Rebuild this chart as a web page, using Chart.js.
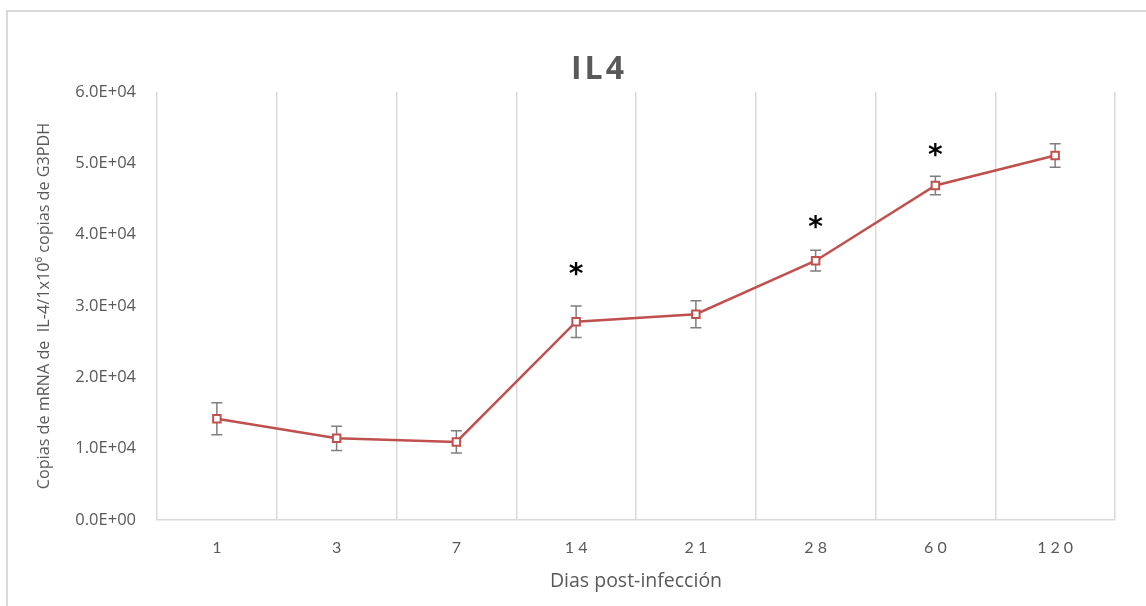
<!DOCTYPE html>
<html>
<head>
<meta charset="utf-8">
<script src="https://cdn.jsdelivr.net/npm/chart.js@4"></script>
<style>
  html, body { margin: 0; padding: 0; background: #fff; }
  #wrap { width: 1146px; height: 606px; }
</style>
</head>
<body>
<div id="wrap"><canvas id="il4Chart" width="1146" height="606"></canvas></div>
<script>
// ---------- data ----------
const days = ['1', '3', '7', '14', '21', '28', '60', '120'];
const il4Mean = [14200, 11450, 10950, 27800, 28850, 36350, 46900, 51100];
const il4Err = [2250, 1700, 1550, 2200, 1900, 1450, 1300, 1650];
// level where the significance asterisk sits (null = none)
const starLevel = [null, null, null, 35000, null, 41600, 51600, null];
const yTicks = [0, 10000, 20000, 30000, 40000, 50000, 60000];

const grey = '#595959';
const lineRed = '#c0504d';

// ---------- plugins ----------
// chart frame (top + left border) and the title
const framePlugin = {
  id: 'frame',
  beforeDraw(chart) {
    const c = chart.ctx;
    c.save();
    c.strokeStyle = '#d9d9d9';
    c.lineWidth = 2;
    c.beginPath();
    c.moveTo(7, chart.height);
    c.lineTo(7, 11);
    c.lineTo(chart.width, 11);
    c.stroke();

    c.fillStyle = grey;
    c.font = 'bold 32px "Open Sans"';
    c.letterSpacing = '3px';
    c.textAlign = 'center';
    c.textBaseline = 'middle';
    c.fillText('IL4', 599, 70);
    c.restore();
  }
};

// vertical error bars with caps, plus asterisks
const errorBarPlugin = {
  id: 'errorBars',
  beforeDatasetsDraw(chart) {
    const c = chart.ctx, x = chart.scales.x, y = chart.scales.y;
    c.save();
    c.strokeStyle = '#7f7f7f';
    c.lineWidth = 1.5;
    il4Mean.forEach((m, i) => {
      const px = x.getPixelForValue(i);
      const top = y.getPixelForValue(m + il4Err[i]);
      const bot = y.getPixelForValue(m - il4Err[i]);
      c.beginPath();
      c.moveTo(px, top); c.lineTo(px, bot);
      c.moveTo(px - 5.5, top); c.lineTo(px + 5.5, top);
      c.moveTo(px - 5.5, bot); c.lineTo(px + 5.5, bot);
      c.stroke();
    });
    c.restore();
  },
  afterDatasetsDraw(chart) {
    const c = chart.ctx, x = chart.scales.x, y = chart.scales.y;
    c.save();
    c.fillStyle = '#000';
    c.font = 'bold 28px "DejaVu Sans"';
    c.textAlign = 'center';
    c.textBaseline = 'middle';
    starLevel.forEach((v, i) => {
      if (v == null) return;
      c.fillText('*', x.getPixelForValue(i), y.getPixelForValue(v) + 5);
    });
    c.restore();
  }
};

// spaced-out category labels
const spacedTicksPlugin = {
  id: 'spacedTicks',
  beforeDraw(chart) {
    const s = chart.scales.x;
    if (s._spaced) return;
    const orig = s.drawLabels;
    s.drawLabels = function (area) {
      const c = this.ctx;
      c.save();
      c.letterSpacing = '4px';
      c.translate(2, 0);
      orig.call(this, area);
      c.restore();
    };
    s._spaced = true;
  }
};

// ---------- chart ----------
const ctx = document.getElementById('il4Chart').getContext('2d');
new Chart(ctx, {
  type: 'line',
  data: {
    labels: days,
    datasets: [{
      label: 'IL4',
      data: il4Mean,
      borderColor: lineRed,
      borderWidth: 2.5,
      backgroundColor: '#ffffff',
      pointStyle: 'rect',
      pointRadius: 5.3,
      pointBorderWidth: 2,
      pointBorderColor: lineRed,
      pointBackgroundColor: '#ffffff',
      tension: 0
    }]
  },
  options: {
    responsive: false,
    animation: false,
    layout: { padding: { left: 8, right: 31, top: 92, bottom: 0 } },
    plugins: {
      legend: { display: false },
      tooltip: { enabled: false },
      title: { display: false }
    },
    scales: {
      x: {
        offset: true,
        grid: { offset: true, color: '#d9d9d9', lineWidth: 1.5, drawTicks: false },
        border: { display: true, color: '#d9d9d9', width: 1.5 },
        ticks: { color: grey, font: { family: 'Lato', size: 16 }, padding: 18 },
        title: {
          display: true,
          text: 'Dias post-infección',
          color: grey,
          font: { family: 'Open Sans', size: 19.5 },
          padding: { top: 0, bottom: 13 }
        },
        afterFit(scale) { scale.height = 86; }
      },
      y: {
        min: 0,
        max: 60000,
        afterBuildTicks(scale) { scale.ticks = yTicks.map(v => ({ value: v })); },
        grid: { display: false },
        border: { display: false },
        ticks: {
          color: grey,
          font: { family: 'Open Sans', size: 16.5 },
          padding: 13,
          callback: v => (v / 10000).toFixed(1) + 'E+0' + (v === 0 ? '0' : '4')
        },
        title: {
          display: true,
          text: 'Copias de mRNA de  IL-4/1x10⁶ copias de G3PDH',
          color: grey,
          font: { family: 'Open Sans', size: 16.2 },
          padding: { top: 27, bottom: 0 }
        },
        afterFit(scale) { scale.width = 149; }
      }
    }
  },
  plugins: [framePlugin, errorBarPlugin, spacedTicksPlugin]
});
</script>
</body>
</html>
